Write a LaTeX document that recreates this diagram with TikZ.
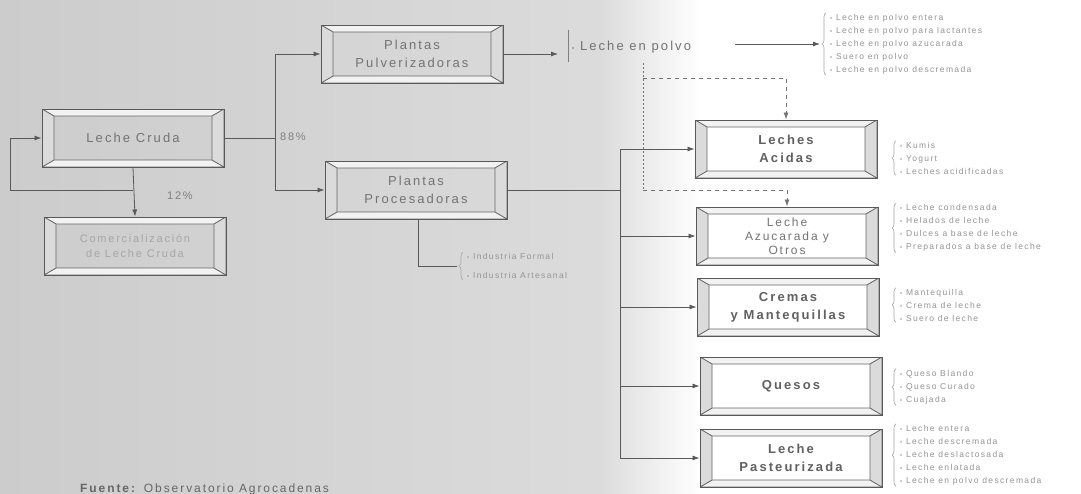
\documentclass[tikz,border=0pt]{standalone}
\usepackage{fontspec}
\setmainfont{Liberation Sans}
\newfontfamily\bxf[LetterSpace=16]{Liberation Sans}
\newfontfamily\lsf[LetterSpace=16]{Liberation Sans}
\usetikzlibrary{arrows.meta,calc,decorations.pathreplacing}
\tikzset{
  ln/.style={draw=black!65, line width=0.8pt},
  arr/.style={ln, -{Latex[length=7pt,width=5pt]}},
  dsh/.style={draw=black!55, line width=0.9pt, dash pattern=on 4pt off 4pt, -{Latex[length=7pt,width=5pt]}},
  dot/.style={draw=black!55, line width=0.9pt, dash pattern=on 1.5pt off 2.5pt},
  bevel/.style={draw=black!65, line width=1pt, minimum width=182pt, minimum height=58pt,
    align=center, inner sep=0pt, text=black!55, font=\bxf\fontsize{13}{18}\selectfont,
    path picture={
      \coordinate (qa) at (path picture bounding box.north west);
      \coordinate (qb) at (path picture bounding box.north east);
      \coordinate (qc) at (path picture bounding box.south east);
      \coordinate (qd) at (path picture bounding box.south west);
      \filldraw[fill=black!5, draw=black!60, line width=0.7pt] (qa) -- (qb) -- ([shift={(-12pt,-7pt)}]qb) -- ([shift={(12pt,-7pt)}]qa) -- cycle;
      \filldraw[fill=black!5, draw=black!60, line width=0.7pt] (qd) -- (qc) -- ([shift={(-12pt,7pt)}]qc) -- ([shift={(12pt,7pt)}]qd) -- cycle;
      \filldraw[fill=black!14, draw=black!60, line width=0.7pt] (qa) -- ([shift={(12pt,-7pt)}]qa) -- ([shift={(12pt,7pt)}]qd) -- (qd) -- cycle;
      \filldraw[fill=black!14, draw=black!60, line width=0.7pt] (qb) -- ([shift={(-12pt,-7pt)}]qb) -- ([shift={(-12pt,7pt)}]qc) -- (qc) -- cycle;
    }},
  bold/.style={font=\bxf\bfseries\fontsize{13}{18}\selectfont, text=black!62},
  lbl/.style={font=\bxf\fontsize{11}{13}\selectfont, text=black!50},
  lst/.style={font=\lsf\fontsize{8.5}{13}\selectfont, text=black!42, align=left, anchor=west, inner sep=1pt},
  brc/.style={draw=black!35, line width=0.6pt, decorate, decoration={brace, amplitude=4pt}}
}
\newcommand{\bl}{{\fontsize{6}{6}\selectfont\textbullet}\ }
\newcommand{\brcof}[1]{\draw[brc] ([xshift=-3pt]#1.south west) -- ([xshift=-3pt]#1.north west);}
\begin{document}
\begin{tikzpicture}[x=1pt,y=-1pt]
\useasboundingbox (0,0) rectangle (1081,493);
% background
\shade[left color=black!20, right color=black!14] (0,0) rectangle (600,493);
\shade[left color=black!14, right color=white] (600,0) rectangle (700,493);
\fill[white] (700,0) rectangle (1081,493);

% boxes
\node[bevel] (lc)  at (133,138) {Leche Cruda};
\node[bevel, text=black!35, font=\bxf\fontsize{11}{15}\selectfont] (com) at (135,246) {Comercialización\\de Leche Cruda};
\node[bevel] (pul) at (412,54)  {Plantas\\Pulverizadoras};
\node[bevel] (pro) at (416,190) {Plantas\\Procesadoras};
\node[bevel, bold] (acid) at (786,149) {Leches\\Acidas};
\node[bevel, text=black!55, font=\bxf\fontsize{12}{14}\selectfont] (azu) at (787,236) {Leche\\Azucarada y\\Otros};
\node[bevel, bold] (cre) at (788,307) {Cremas\\y Mantequillas};
\node[bevel, bold] (que) at (791,386) {Quesos};
\node[bevel, bold] (pas) at (791,458) {Leche\\Pasteurizada};

% left connectors
\coordinate (j1) at (275,138);
\draw[ln] (lc.east) -- (j1);
\draw[arr] (j1) |- (pul.west);
\draw[arr] (j1) |- (pro.west);
\draw[arr] (lc.south) -- (com.north);
\coordinate (lb) at (133,190);
\coordinate (lp) at (10,190);
\draw[arr] (lb) -- (lp) |- (lc.west);
\node[lbl] (p12) at (180,196) {12\%};
\node[lbl] (p88) at (293,137) {88\%};

% leche en polvo
\coordinate (vb1) at (568,30);
\coordinate (vb2) at (568,62);
\coordinate (pa) at (558,54);
\draw[arr] (pul.east) -- (pul.east -| pa);
\draw[ln, draw=black!50] (vb1) -- (vb2);
\node[anchor=west, font=\bxf\fontsize{13}{16}\selectfont, text=black!55, inner sep=1pt] (lpe) at (571,47) {\bl Leche en polvo};
\node[lst] (tl) at (829,44) {\bl Leche en polvo entera\\\bl Leche en polvo para lactantes\\\bl Leche en polvo azucarada\\\bl Suero en polvo\\\bl Leche en polvo descremada};
\brcof{tl}
\coordinate (a1) at (735,44);
\draw[arr] (a1) -- ([xshift=-9pt]tl.west);

% dashed links
\coordinate (d0) at (643,63);
\coordinate (d2) at (643,78);
\coordinate (d1) at (643,190);
\draw[dot] (d0) -- (d1);
\draw[dsh] (d2) -| (acid.north);
\draw[dsh] (d1) -| (azu.north);

% processing bus
\coordinate (b0) at (620,190);
\draw[ln] (pro.east) -- (pro.east -| b0);
\draw[ln] (b0 |- acid.west) -- (b0 |- pas.west);
\draw[arr] (b0 |- acid.west) -- (acid.west);
\draw[arr] (b0 |- azu.west) -- (azu.west);
\draw[arr] (b0 |- cre.west) -- (cre.west);
\draw[arr] (b0 |- que.west) -- (que.west);
\draw[arr] (b0 |- pas.west) -- (pas.west);

% industria
\node[lst] (ind) at (466,266) {\bl Industria Formal\\[6pt]\bl Industria Artesanal};
\brcof{ind}
\coordinate (i1) at (418,266);
\draw[ln] (pro.south -| i1) -- (i1) -- ([xshift=-9pt]ind.west);

% right lists
\node[lst] (la) at (899,158) {\bl Kumis\\\bl Yogurt\\\bl Leches acidificadas};
\node[lst] (lz) at (899,228) {\bl Leche condensada\\\bl Helados de leche\\\bl Dulces a base de leche\\\bl Preparados a base de leche};
\node[lst] (lcm) at (899,305) {\bl Mantequilla\\\bl Crema de leche\\\bl Suero de leche};
\node[lst] (lq) at (899,387) {\bl Queso Blando\\\bl Queso Curado\\\bl Cuajada};
\node[lst] (lpz) at (899,455) {\bl Leche entera\\\bl Leche descremada\\\bl Leche deslactosada\\\bl Leche enlatada\\\bl Leche en polvo descremada};
\brcof{la}\brcof{lz}\brcof{lcm}\brcof{lq}\brcof{lpz}

% source
\node[anchor=base west, font=\bxf\fontsize{12}{14}\selectfont, text=black!60, inner sep=0pt] (src) at (80,492) {\textbf{Fuente:} Observatorio Agrocadenas};
\end{tikzpicture}
\end{document}
